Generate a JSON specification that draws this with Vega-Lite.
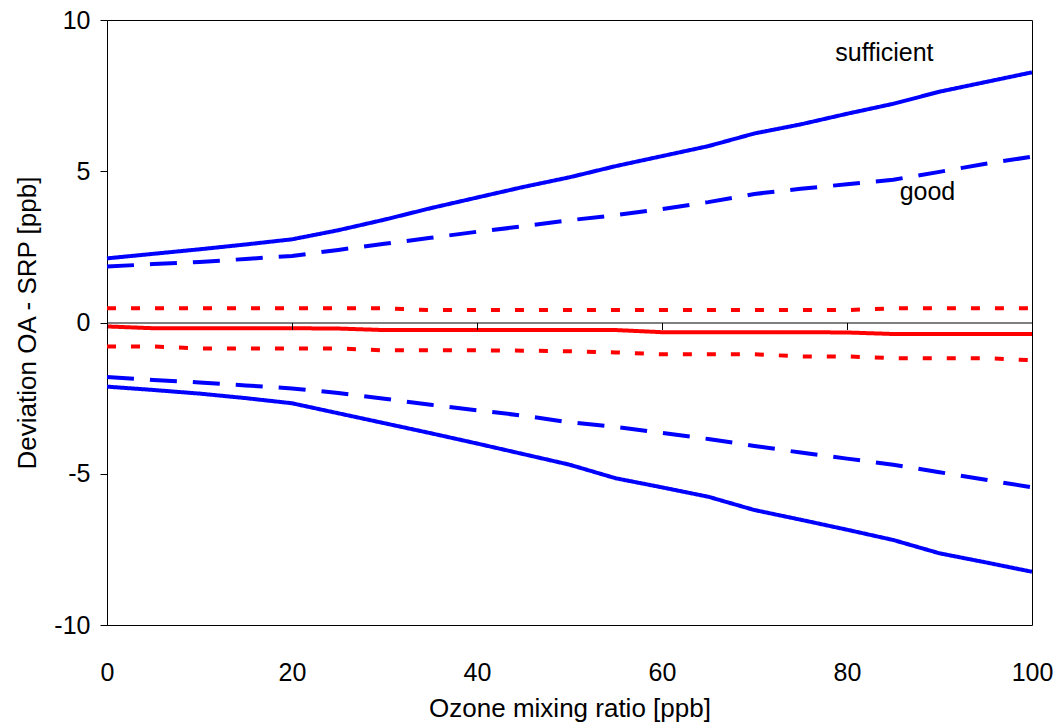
{
  "$schema": "https://vega.github.io/schema/vega-lite/v6.json",
  "width": 925,
  "height": 605,
  "autosize": {"type": "none"},
  "padding": {"left": 107, "top": 20, "right": 24, "bottom": 97},
  "background": "white",
  "config": {
    "font": "Liberation Sans",
    "view": {"stroke": "#000000", "strokeWidth": 1},
    "axis": {"labelFont": "Liberation Sans", "titleFont": "Liberation Sans", "labelColor": "#000", "titleColor": "#000", "titleFontWeight": "normal", "grid": false}
  },
  "datasets": {
    "curves": [
      {"ozone": 0, "suff_up": 2.12, "suff_lo": -2.12, "good_up": 1.85, "good_lo": -1.8, "mean": -0.13, "lim_up": 0.47, "lim_lo": -0.79},
      {"ozone": 5, "suff_up": 2.27, "suff_lo": -2.23, "good_up": 1.93, "good_lo": -1.9, "mean": -0.19, "lim_up": 0.47, "lim_lo": -0.79},
      {"ozone": 10, "suff_up": 2.42, "suff_lo": -2.35, "good_up": 2.0, "good_lo": -1.98, "mean": -0.19, "lim_up": 0.47, "lim_lo": -0.86},
      {"ozone": 15, "suff_up": 2.58, "suff_lo": -2.5, "good_up": 2.1, "good_lo": -2.08, "mean": -0.19, "lim_up": 0.47, "lim_lo": -0.86},
      {"ozone": 20, "suff_up": 2.75, "suff_lo": -2.67, "good_up": 2.2, "good_lo": -2.18, "mean": -0.19, "lim_up": 0.47, "lim_lo": -0.86},
      {"ozone": 25, "suff_up": 3.05, "suff_lo": -3.0, "good_up": 2.4, "good_lo": -2.33, "mean": -0.2, "lim_up": 0.47, "lim_lo": -0.86},
      {"ozone": 30, "suff_up": 3.4, "suff_lo": -3.33, "good_up": 2.6, "good_lo": -2.52, "mean": -0.25, "lim_up": 0.47, "lim_lo": -0.92},
      {"ozone": 35, "suff_up": 3.78, "suff_lo": -3.66, "good_up": 2.8, "good_lo": -2.72, "mean": -0.25, "lim_up": 0.41, "lim_lo": -0.92},
      {"ozone": 40, "suff_up": 4.13, "suff_lo": -4.0, "good_up": 3.0, "good_lo": -2.9, "mean": -0.25, "lim_up": 0.41, "lim_lo": -0.92},
      {"ozone": 45, "suff_up": 4.48, "suff_lo": -4.35, "good_up": 3.18, "good_lo": -3.08, "mean": -0.25, "lim_up": 0.41, "lim_lo": -0.93},
      {"ozone": 50, "suff_up": 4.8, "suff_lo": -4.7, "good_up": 3.38, "good_lo": -3.3, "mean": -0.25, "lim_up": 0.41, "lim_lo": -0.95},
      {"ozone": 55, "suff_up": 5.17, "suff_lo": -5.15, "good_up": 3.55, "good_lo": -3.45, "mean": -0.25, "lim_up": 0.41, "lim_lo": -0.99},
      {"ozone": 60, "suff_up": 5.5, "suff_lo": -5.45, "good_up": 3.75, "good_lo": -3.65, "mean": -0.32, "lim_up": 0.41, "lim_lo": -1.05},
      {"ozone": 65, "suff_up": 5.83, "suff_lo": -5.76, "good_up": 3.98, "good_lo": -3.85, "mean": -0.32, "lim_up": 0.41, "lim_lo": -1.05},
      {"ozone": 70, "suff_up": 6.25, "suff_lo": -6.2, "good_up": 4.25, "good_lo": -4.08, "mean": -0.32, "lim_up": 0.41, "lim_lo": -1.05},
      {"ozone": 75, "suff_up": 6.55, "suff_lo": -6.52, "good_up": 4.42, "good_lo": -4.3, "mean": -0.32, "lim_up": 0.41, "lim_lo": -1.12},
      {"ozone": 80, "suff_up": 6.9, "suff_lo": -6.85, "good_up": 4.57, "good_lo": -4.5, "mean": -0.33, "lim_up": 0.41, "lim_lo": -1.12},
      {"ozone": 85, "suff_up": 7.23, "suff_lo": -7.19, "good_up": 4.72, "good_lo": -4.7, "mean": -0.38, "lim_up": 0.47, "lim_lo": -1.18},
      {"ozone": 90, "suff_up": 7.63, "suff_lo": -7.63, "good_up": 4.98, "good_lo": -4.95, "mean": -0.38, "lim_up": 0.47, "lim_lo": -1.18},
      {"ozone": 95, "suff_up": 7.95, "suff_lo": -7.93, "good_up": 5.25, "good_lo": -5.2, "mean": -0.38, "lim_up": 0.47, "lim_lo": -1.18},
      {"ozone": 100, "suff_up": 8.27, "suff_lo": -8.24, "good_up": 5.48, "good_lo": -5.45, "mean": -0.38, "lim_up": 0.47, "lim_lo": -1.25}
    ],
    "labels": [
      {"ozone": 84.05, "dev": 8.66, "label": "sufficient"},
      {"ozone": 88.7, "dev": 4.05, "label": "good"}
    ]
  },
  "resolve": {"axis": {"x": "independent"}},
  "layer": [
    {
      "data": {"name": "curves"},
      "transform": [
        {"fold": ["suff_up", "suff_lo", "good_up", "good_lo", "mean", "lim_up", "lim_lo"], "as": ["series", "dev"]}
      ],
      "mark": {"type": "line", "strokeWidth": 4, "strokeCap": "butt", "strokeJoin": "round"},
      "encoding": {
        "x": {
          "field": "ozone", "type": "quantitative",
          "scale": {"domain": [0, 100], "nice": false, "zero": false},
          "axis": {
            "orient": "bottom", "values": [0, 20, 40, 60, 80, 100], "domain": false, "ticks": false,
            "labelFontSize": 25, "labelPadding": 35, "labelFlush": false,
            "title": "Ozone mixing ratio [ppb]", "titleFontSize": 26, "titlePadding": 10
          }
        },
        "y": {
          "field": "dev", "type": "quantitative",
          "scale": {"domain": [-10, 10], "nice": false, "zero": false},
          "axis": {
            "values": [-10, -5, 0, 5, 10], "domainColor": "#000", "tickColor": "#000", "tickSize": 7,
            "labelFontSize": 25, "labelPadding": 10, "labelFlush": false,
            "labelExpr": "datum.value < 0 ? '-' + abs(datum.value) : '' + datum.value",
            "title": "Deviation OA - SRP [ppb]", "titleFontSize": 26, "titlePadding": 13
          }
        },
        "color": {
          "field": "series", "type": "nominal", "legend": null,
          "scale": {"domain": ["suff_up", "suff_lo", "good_up", "good_lo", "mean", "lim_up", "lim_lo"],
                    "range": ["#0000FF", "#0000FF", "#0000FF", "#0000FF", "#FF0000", "#FF0000", "#FF0000"]}
        },
        "strokeDash": {
          "field": "series", "type": "nominal", "legend": null,
          "scale": {"domain": ["suff_up", "suff_lo", "good_up", "good_lo", "mean", "lim_up", "lim_lo"],
                    "range": [[1, 0], [1, 0], [27, 16], [27, 16], [1, 0], [9, 15], [9, 15]]}
        }
      }
    },
    {
      "data": {"name": "labels"},
      "mark": {"type": "text", "fontSize": 25, "align": "center", "baseline": "alphabetic", "color": "#000"},
      "encoding": {
        "x": {
          "field": "ozone", "type": "quantitative",
          "axis": {
            "orient": "bottom", "offset": -302.5, "values": [0, 20, 40, 60, 80, 100],
            "labels": false, "title": null, "domainColor": "#000", "domainWidth": 1,
            "tickColor": "#000", "tickSize": 7, "zindex": 2
          }
        },
        "y": {"field": "dev", "type": "quantitative"},
        "text": {"field": "label"}
      }
    }
  ]
}
